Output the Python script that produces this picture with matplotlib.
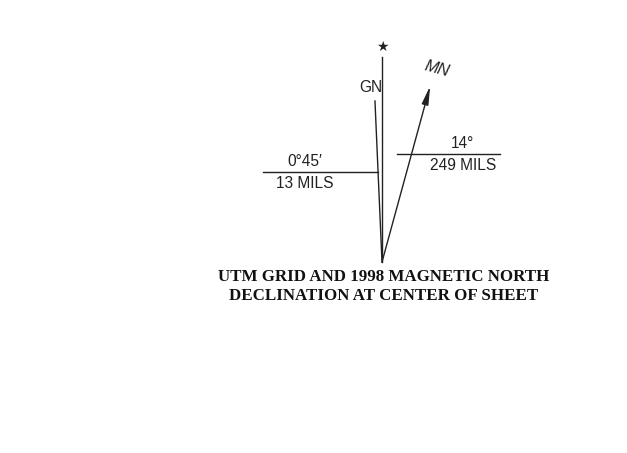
import numpy as np
import matplotlib
matplotlib.use("Agg")
import matplotlib.pyplot as plt

# Declination data
labels = ["GN", "MN"]
angle_text = ["0\u00b045\u2032", "14\u00b0"]
mils_text = ["13 MILS", "249 MILS"]
draw_angles_deg = [-2.5, 15.3]   # angles as drawn on the diagram (not to scale)
title_lines = ["UTM GRID AND 1998 MAGNETIC NORTH", "DECLINATION AT CENTER OF SHEET"]

fig = plt.figure(figsize=(6.27, 4.53), dpi=100)
ax = fig.add_axes([0, 0, 1, 1])
ax.set_xlim(0, 627)
ax.set_ylim(453, 0)
ax.axis("off")

apex = (382, 262)
lw = 1.0
col = "#222222"
fs = 11.2

# True north line and star
ax.plot([apex[0], apex[0]], [apex[1], 57], color=col, lw=lw)
ax.text(apex[0], 47, "\u2605", ha="center", va="center", fontsize=10, color=col, family="DejaVu Sans")

# GN line
L_gn = 161 / np.cos(np.radians(draw_angles_deg[0]))
gx = apex[0] + L_gn * np.sin(np.radians(draw_angles_deg[0]))
gy = apex[1] - L_gn * np.cos(np.radians(draw_angles_deg[0]))
ax.plot([apex[0], gx], [apex[1], gy], color=col, lw=lw)
ax.text(371, 88, labels[0], ha="center", va="center", fontsize=fs, color=col, family="Liberation Sans")

# MN arrow
L_mn = 176 / np.cos(np.radians(draw_angles_deg[1]))
mx = apex[0] + L_mn * np.sin(np.radians(draw_angles_deg[1]))
my = apex[1] - L_mn * np.cos(np.radians(draw_angles_deg[1]))
ax.annotate("", xy=(mx, my), xytext=apex,
            arrowprops=dict(arrowstyle="-|>,head_length=1.1,head_width=0.2", color=col, lw=lw,
                            shrinkA=0, shrinkB=0))
ax.text(437, 69, labels[1], ha="center", va="center", fontsize=fs + 0.5, color=col,
        family="Liberation Sans", rotation=-15, style="italic")

# Left annotation (GN)
ax.plot([263, 378], [172, 172], color=col, lw=lw)
ax.text(305, 162, angle_text[0], ha="center", va="center", fontsize=fs, color=col, family="Liberation Sans")
ax.text(305, 183, mils_text[0], ha="center", va="center", fontsize=fs, color=col, family="Liberation Sans")

# Right annotation (MN)
ax.plot([397, 500], [154, 154], color=col, lw=lw)
ax.text(463, 144, angle_text[1], ha="center", va="center", fontsize=fs, color=col, family="Liberation Sans")
ax.text(463, 165, mils_text[1], ha="center", va="center", fontsize=fs, color=col, family="Liberation Sans")

# Title
ax.text(384, 277, title_lines[0], ha="center", va="center", fontsize=12.2, color="#111111",
        family="Liberation Serif", weight="bold")
ax.text(384, 296, title_lines[1], ha="center", va="center", fontsize=12.2, color="#111111",
        family="Liberation Serif", weight="bold")

fig.savefig("out.png", dpi=100)
